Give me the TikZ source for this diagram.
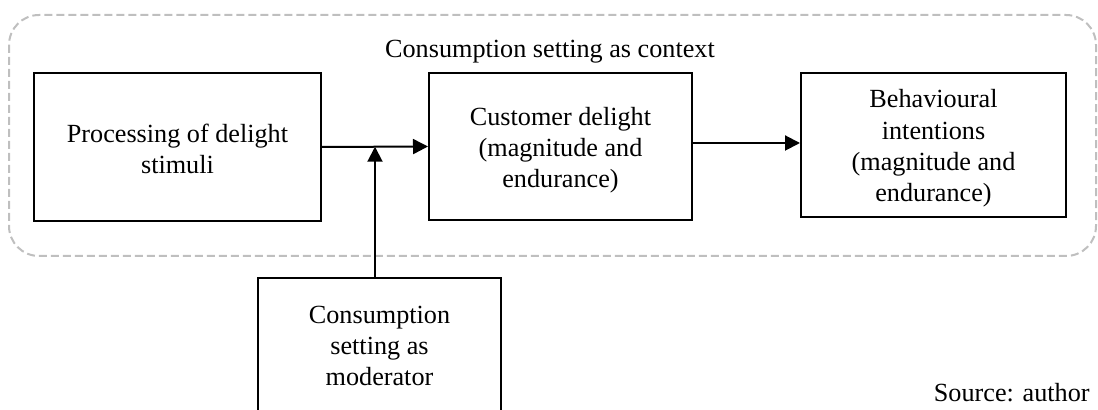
\documentclass[tikz,border=0pt]{standalone}
\usepackage{fontspec}
\setmainfont{Liberation Serif}
\usetikzlibrary{arrows.meta,calc}
\begin{document}
\begin{tikzpicture}[x=0.5pt,y=-0.5pt,
  every node/.style={font=\fontsize{13.1}{15.6}\selectfont},
  stagebox/.style={draw=black,line width=1pt,inner sep=0pt},
  stagetext/.style={align=center,inner sep=0pt},
  flow/.style={line width=1pt,-{Triangle[length=7.5pt,width=7.5pt]}},
  frame/.style={draw=black!25,line width=1pt,dash pattern=on 4pt off 2pt,rounded corners=15pt}]
  \useasboundingbox (0,0) rectangle (1098,410);
  \clip (0,0) rectangle (1098,410);

  % context frame
  \draw[frame] (9,15) rectangle (1096,256);
  \node (ctx) at (550,52) {Consumption setting as context};

  % stage boxes
  \node[stagebox,minimum width=143.5pt,minimum height=74pt] (proc) at (177.5,147) {};
  \node[stagebox,minimum width=131.5pt,minimum height=73.5pt] (delight) at (560.5,146.5) {};
  \node[stagebox,minimum width=132.5pt,minimum height=72pt] (intent) at (933.5,145) {};
  \node[stagebox,minimum width=121.5pt,minimum height=68pt] (moder) at (379.5,346) {};

  % stage texts
  \node[stagetext] (proctxt) at ([yshift=-1pt]proc.center)
    {Processing of delight\\stimuli};
  \node[stagetext] (delighttxt) at ([yshift=-2pt]delight.center)
    {Customer delight\\(magnitude and\\endurance)};
  \node[stagetext] (intenttxt) at ([yshift=-1.75pt]intent.center)
    {Behavioural\\intentions\\(magnitude and\\endurance)};
  \node[stagetext] (modertxt) at (moder.center)
    {Consumption\\setting as\\moderator};

  % source note
  \node[anchor=east,inner sep=0pt] (src) at (1090,393) {Source: author};

  % connectors
  \coordinate (join) at ($(proc.east)!0.5!(delight.west)$);
  \draw[flow] (proc.east) -- (delight.west);
  \draw[flow] ([yshift=1.75pt]delight.east) -- ([yshift=1.75pt]delight.east -| intent.west);
  \draw[flow,shorten >=-0.5pt] (moder.north -| join) -- ([yshift=-0.5pt]join);
\end{tikzpicture}
\end{document}
